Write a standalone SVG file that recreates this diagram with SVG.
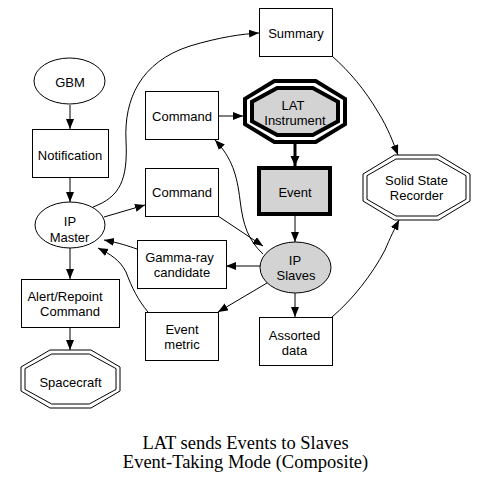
<svg xmlns="http://www.w3.org/2000/svg" width="487" height="488" viewBox="0 0 487 488">
<defs>
<marker id="ah" markerUnits="userSpaceOnUse" markerWidth="11" markerHeight="9" refX="10" refY="4" orient="auto">
<path d="M0,0 L10,4 L0,8 z" fill="#000"/>
</marker>
<marker id="ahb" markerUnits="userSpaceOnUse" markerWidth="12" markerHeight="10" refX="10" refY="4.5" orient="auto">
<path d="M0,0 L10,4.5 L0,9 z" fill="#000"/>
</marker>
<style>
.n{fill:#fff;stroke:#000;stroke-width:1}
.g{fill:#d3d3d3;stroke:#000;stroke-width:1}
.t{font-family:"Liberation Sans",Arial,sans-serif;font-size:13px;text-anchor:middle;fill:#000}
.e{fill:none;stroke:#000;stroke-width:1;marker-end:url(#ah)}
.title{font-family:"Liberation Serif","Times New Roman",serif;font-size:18.5px;text-anchor:middle;fill:#000}
</style>
</defs>
<rect width="487" height="488" fill="#fff"/>
<g id="connectors">
<path class="e" d="M70,105 L70,129"/>
<path class="e" d="M70,177 L70,202"/>
<path class="e" d="M70,248 L70,279"/>
<path class="e" d="M70,327 L70,350"/>
<path class="e" d="M104,217 L145,205"/>
<path class="e" d="M93,207 C120,197 128,180 126,140 C124,100 140,62 190,46 C220,37 242,34 259,33"/>
<path class="e" d="M218,116 L243,116"/>
<path d="M295,144 L295,166" fill="none" stroke="#000" stroke-width="3" marker-end="url(#ahb)"/>
<path class="e" d="M295,216 L295,242"/>
<path class="e" d="M263,254 C248,240 243,225 240,200 C237,175 232,158 215,140"/>
<path class="e" d="M218,216 L263,246"/>
<path class="e" d="M260,266 L226,266"/>
<path class="e" d="M137,249 C128,246 120,243 104,240"/>
<path class="e" d="M267,283 L218,312"/>
<path class="e" d="M148,312 C138,300 132,288 126,272 C120,260 110,254 98,248"/>
<path class="e" d="M295,293 L295,317"/>
<path class="e" d="M332,317 C352,300 372,275 385,250 C390,238 395,228 399,220"/>
<path class="e" d="M332,56 C350,72 365,90 378,112 C388,128 393,142 398,155"/>
</g>
<g id="gbm">
<ellipse class="n" cx="69.5" cy="81" rx="35.5" ry="23"/>
<text class="t" x="70" y="87">GBM</text>
</g>
<g id="notification">
<rect class="n" x="32.5" y="129.5" width="76" height="48"/>
<text class="t" x="70" y="160">Notification</text>
</g>
<g id="ip_master">
<ellipse class="n" cx="70" cy="225" rx="35" ry="23"/>
<text class="t" x="70" y="225.5">IP</text>
<text class="t" x="69.5" y="241.5">Master</text>
</g>
<g id="alert_repoint">
<rect class="n" x="21.5" y="279.5" width="98" height="48"/>
<text class="t" x="65" y="300.5">Alert/Repoint</text>
<text class="t" x="70" y="316">Command</text>
</g>
<g id="spacecraft">
<polygon class="n" points="120,367 91,350 50,350 21,367 21,391 50,408 91,408 120,391"/>
<polygon class="n" points="116,368.6 89.3,354 51.7,354 25,368.6 25,389.4 51.7,404 89.3,404 116,389.4"/>
<text class="t" x="70.5" y="386.5">Spacecraft</text>
</g>
<g id="command1">
<rect class="n" x="145.5" y="91.5" width="73" height="48"/>
<text class="t" x="182" y="120.5">Command</text>
</g>
<g id="command2">
<rect class="n" x="145.5" y="168.5" width="73" height="48"/>
<text class="t" x="182" y="197">Command</text>
</g>
<g id="summary">
<rect class="n" x="259.5" y="8.5" width="73" height="48"/>
<text class="t" x="296" y="37.5">Summary</text>
</g>
<g id="lat_instrument">
<polygon points="345,98.9 315.7,81 274.3,81 245,98.9 245,124.1 274.3,142 315.7,142 345,124.1" fill="#fff" stroke="#000" stroke-width="4"/>
<polygon points="338,101.8 312.8,88 277.2,88 252,101.8 252,121.2 277.2,135 312.8,135 338,121.2" fill="#d3d3d3" stroke="#000" stroke-width="4"/>
<text class="t" x="293" y="109.5">LAT</text>
<text class="t" x="295" y="125">Instrument</text>
</g>
<g id="event">
<rect x="259" y="168" width="71" height="46" fill="#d3d3d3" stroke="#000" stroke-width="4"/>
<text class="t" x="295" y="197">Event</text>
</g>
<g id="solid_state_recorder">
<polygon class="n" points="470,174 438.6,155 394.4,155 363,174 363,201 394.4,220 438.6,220 470,201"/>
<polygon class="n" points="466,175.7 437,159 396,159 367,175.7 367,199.3 396,216 437,216 466,199.3"/>
<text class="t" x="416.5" y="184.5">Solid State</text>
<text class="t" x="416.5" y="199.5">Recorder</text>
</g>
<g id="ip_slaves">
<ellipse class="g" cx="295.5" cy="267.5" rx="35.5" ry="25.5"/>
<text class="t" x="295" y="264.5">IP</text>
<text class="t" x="296" y="280">Slaves</text>
</g>
<g id="gamma_ray_candidate">
<rect class="n" x="137.5" y="240.5" width="89" height="48"/>
<text class="t" x="179.5" y="261.5">Gamma-ray</text>
<text class="t" x="182" y="277">candidate</text>
</g>
<g id="event_metric">
<rect class="n" x="145.5" y="312.5" width="73" height="48"/>
<text class="t" x="182" y="333.5">Event</text>
<text class="t" x="182" y="349">metric</text>
</g>
<g id="assorted_data">
<rect class="n" x="259.5" y="317.5" width="73" height="48"/>
<text class="t" x="294.5" y="339.5">Assorted</text>
<text class="t" x="294.5" y="355">data</text>
</g>
<g id="title">
<text class="title" x="245.5" y="449">LAT sends Events to Slaves</text>
<text class="title" x="245.5" y="468">Event-Taking Mode (Composite)</text>
</g>
</svg>
